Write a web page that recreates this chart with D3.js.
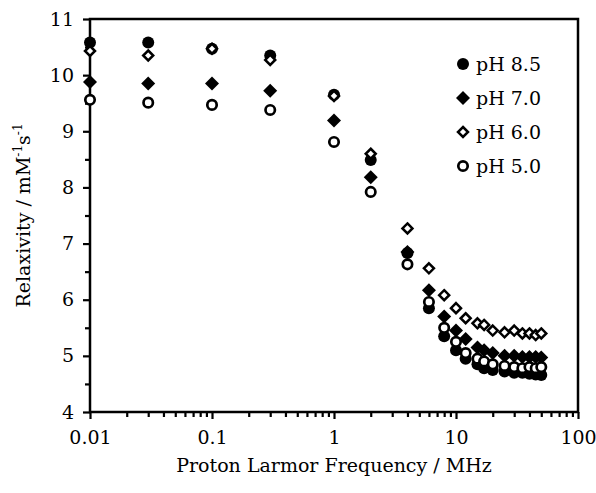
<!DOCTYPE html>
<html><head><meta charset="utf-8">
<script src="https://cdn.jsdelivr.net/npm/d3@7"></script>
<style>body{margin:0;background:#fff}svg text{font-family:"DejaVu Serif",serif;fill:#000}</style>
</head><body><svg id="c" width="596" height="493"></svg>
<script>
const freq = [0.01,0.03,0.1,0.3,1,2,4,6,8,10,12,15,17,20,25,30,35,40,45,50];
const ph85 = [10.58,10.58,10.47,10.35,9.65,8.49,6.83,5.85,5.35,5.1,4.95,4.85,4.78,4.75,4.72,4.7,4.7,4.68,4.67,4.66];
const ph70 = [9.88,9.85,9.85,9.72,9.19,8.18,6.85,6.17,5.7,5.45,5.3,5.15,5.1,5.05,5.0,5.0,4.98,4.98,4.98,4.97];
const ph60 = [10.43,10.35,10.47,10.27,9.63,8.6,7.27,6.56,6.08,5.85,5.67,5.58,5.55,5.45,5.42,5.45,5.4,5.4,5.37,5.4];
const ph50 = [9.56,9.51,9.47,9.38,8.81,7.92,6.63,5.96,5.5,5.25,5.05,4.95,4.9,4.85,4.82,4.8,4.78,4.8,4.78,4.8];
const seriesNames = ["pH 8.5","pH 7.0","pH 6.0","pH 5.0"];
const xTicks = [0.01,0.1,1,10,100];
const xTickLabels = ["0.01","0.1","1","10","100"];
const yTicks = [4,5,6,7,8,9,10,11];

const svg = d3.select("#c");
const L=90,R=578,T=19,B=412;
const FS="19px";
const x = d3.scaleLog().domain([0.01,100]).range([L,R]);
const y = d3.scaleLinear().domain([4,11]).range([B,T]);

const xMinor=[];
for(let d=0.01; d<100; d*=10){for(let k=2;k<=9;k++) xMinor.push(+(d*k).toPrecision(3));}
svg.append("g").attr("transform",`translate(0,${B})`)
  .call(d3.axisBottom(x).tickValues(xMinor).tickSize(5).tickFormat(""))
  .call(g=>{g.select(".domain").remove();g.selectAll("line").attr("stroke-width",2.2);});
svg.append("g").attr("transform",`translate(0,${B})`)
  .call(d3.axisBottom(x).tickValues(xTicks).tickSize(7).tickPadding(12).tickFormat((d,i)=>xTickLabels[i]))
  .call(g=>{g.select(".domain").remove();g.selectAll("line").attr("stroke-width",2.2);
    g.selectAll("text").style("font-family","DejaVu Serif").style("font-size",FS);});
const yMinor=d3.range(4.5,11,1);
svg.append("g").attr("transform",`translate(${L},0)`)
  .call(d3.axisLeft(y).tickValues(yMinor).tickSize(5).tickFormat(""))
  .call(g=>{g.select(".domain").remove();g.selectAll("line").attr("stroke-width",2.2);});
svg.append("g").attr("transform",`translate(${L},0)`)
  .call(d3.axisLeft(y).tickValues(yTicks).tickSize(7).tickPadding(9).tickFormat(d3.format("d")))
  .call(g=>{g.select(".domain").remove();g.selectAll("line").attr("stroke-width",2.2);
    g.selectAll("text").style("font-family","DejaVu Serif").style("font-size",FS);});
svg.append("rect").attr("x",L).attr("y",T).attr("width",R-L).attr("height",B-T)
  .attr("fill","none").attr("stroke","#000").attr("stroke-width",2.5);

const diamondPath = s=>`M0,${-s}L${s},0L0,${s}L${-s},0Z`;
function drawMarker(g, type){
  if(type===0) g.append("circle").attr("r",6).attr("fill","#000");
  else if(type===1) g.append("path").attr("d",diamondPath(7)).attr("fill","#000");
  else if(type===2) g.append("path").attr("d",diamondPath(5)).attr("fill","#fff").attr("stroke","#000").attr("stroke-width",2.5);
  else g.append("circle").attr("r",4.7).attr("fill","#fff").attr("stroke","#000").attr("stroke-width",2.7);
}
const all=[ph85,ph70,ph60,ph50];
[0,1,2,3].forEach(si=>{
  const gs=svg.append("g");
  freq.forEach((f,i)=>{
    const g=gs.append("g").attr("transform",`translate(${x(f)},${y(all[si][i])})`);
    drawMarker(g,si);
  });
});
const leg=svg.append("g");
seriesNames.forEach((n,i)=>{
  const yy=64+i*34;
  const g=leg.append("g").attr("transform",`translate(463,${yy})`);
  drawMarker(g,i);
  leg.append("text").attr("x",476).attr("y",yy).attr("dy","0.35em").style("font-size",FS).text(n);
});
svg.append("text").attr("x",(L+R)/2).attr("y",472).attr("text-anchor","middle").style("font-size",FS)
  .text("Proton Larmor Frequency / MHz");
const yt=svg.append("text").attr("transform",`translate(30,${(T+B)/2}) rotate(-90)`).attr("text-anchor","middle").style("font-size",FS);
yt.append("tspan").text("Relaxivity / mM");
yt.append("tspan").attr("dy",-8).style("font-size","12px").text("-1");
yt.append("tspan").attr("dy",8).text("s");
yt.append("tspan").attr("dy",-8).style("font-size","12px").text("-1");
</script></body></html>
